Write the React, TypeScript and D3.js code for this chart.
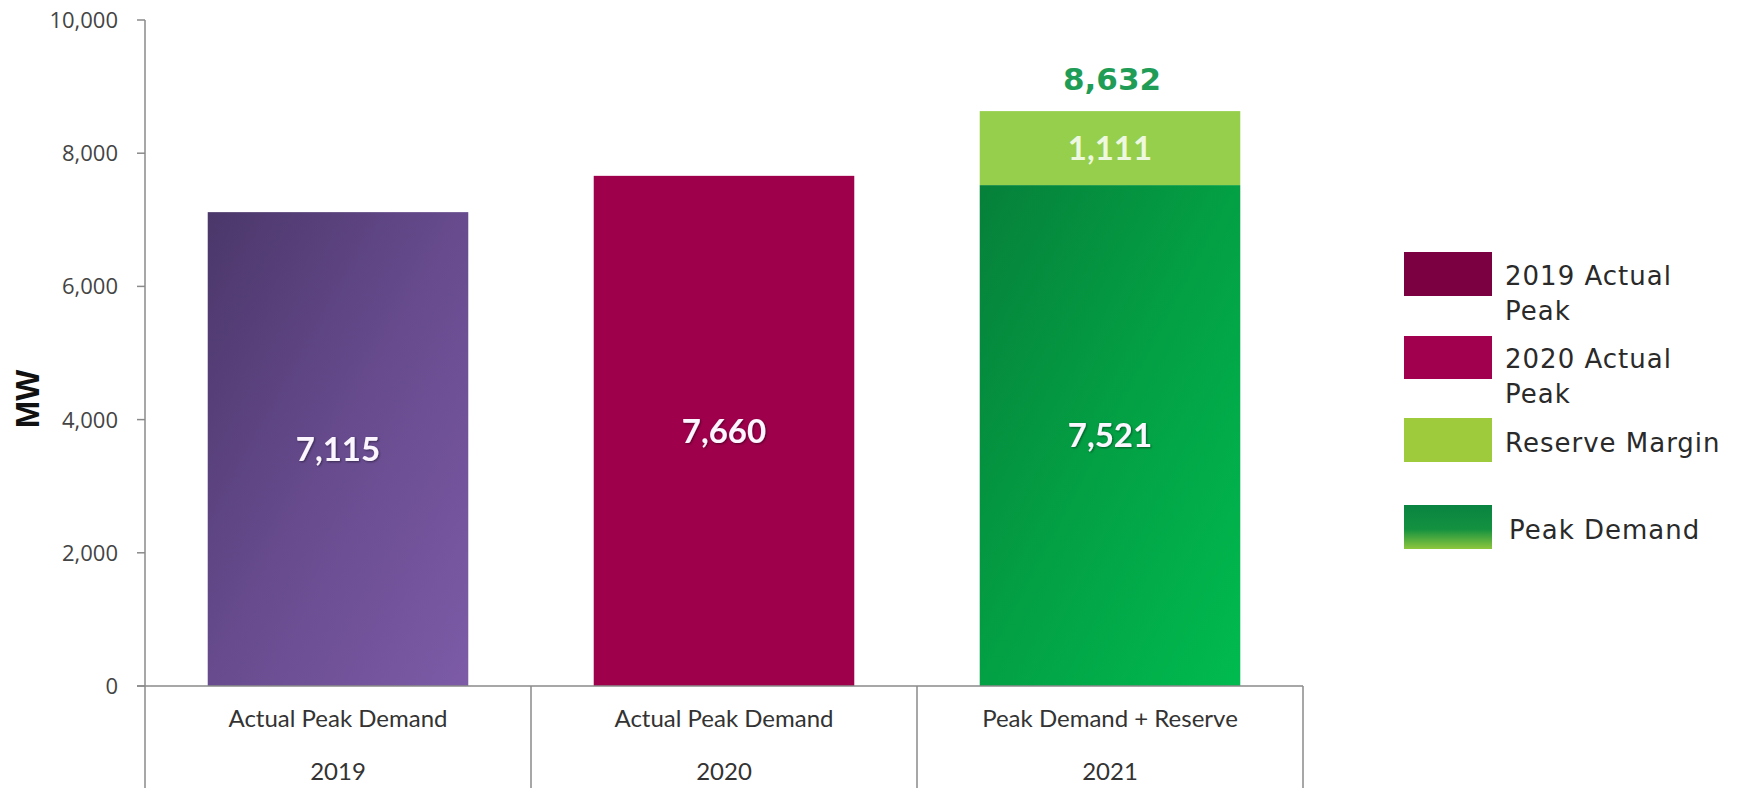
import React from "react";
import * as d3 from "d3";

const categories = ["Actual Peak Demand", "Actual Peak Demand", "Peak Demand + Reserve"];
const years = ["2019", "2020", "2021"];
const peakValues = [7115, 7660, 7521];
const reserveValues = [0, 0, 1111];
const yTicks = [0, 2000, 4000, 6000, 8000, 10000];
const legendItems = [
  { lines: ["2019 Actual", "Peak"], key: "l2019" },
  { lines: ["2020 Actual", "Peak"], key: "l2020" },
  { lines: ["Reserve Margin"], key: "lres" },
  { lines: ["Peak Demand"], key: "lpeak" },
];

const W = 1737;
const H = 788;

export default function App() {
  const y = d3.scaleLinear().domain([0, 10000]).range([686, 20]);
  const x = d3.scaleBand<string>().domain(years).range([145, 1303]).padding(0);
  const bw = x.bandwidth() * 0.675;
  const fmt = d3.format(",");
  const fills = ["url(#gPurple)", "#9e004b", "url(#gGreen)"];
  const axisColor = "#8a8a8a";

  const legendSwatch = [
    { y: 252, h: 44, fill: "#7a0041" },
    { y: 336, h: 43, fill: "#a0004d" },
    { y: 418, h: 44, fill: "#9dcb3c" },
    { y: 505, h: 44, fill: "url(#gLegendGreen)" },
  ];
  const legendTextX = [1505, 1505, 1505, 1509];
  const legendBase = [285, 368, 452, 539];

  return (
    <svg
      width={W}
      height={H}
      viewBox={`0 0 ${W} ${H}`}
      style={{ position: "absolute", left: 0, top: 0, background: "#fff" }}
    >
      <defs>
        <linearGradient id="gPurple" x1="0" y1="0" x2="1" y2="1">
          <stop offset="0%" stopColor="#4b376a" />
          <stop offset="50%" stopColor="#674b8e" />
          <stop offset="100%" stopColor="#7d5ba7" />
        </linearGradient>
        <linearGradient id="gGreen" x1="0" y1="0" x2="1" y2="1">
          <stop offset="0%" stopColor="#06803a" />
          <stop offset="50%" stopColor="#03a044" />
          <stop offset="100%" stopColor="#00bb4f" />
        </linearGradient>
        <linearGradient id="gLegendGreen" x1="0" y1="0" x2="0" y2="1">
          <stop offset="0%" stopColor="#0a8441" />
          <stop offset="55%" stopColor="#139140" />
          <stop offset="100%" stopColor="#8ec63d" />
        </linearGradient>
        <filter id="shadow" x="-20%" y="-20%" width="140%" height="140%">
          <feDropShadow dx="1" dy="1" stdDeviation="1" floodColor="#000" floodOpacity="0.45" />
        </filter>
      </defs>

      {/* bars */}
      {years.map((yr, i) => {
        const cx = (x(yr) as number) + x.bandwidth() / 2;
        const x0 = cx - bw / 2;
        return (
          <g key={yr}>
            <rect x={x0} y={y(peakValues[i])} width={bw} height={y(0) - y(peakValues[i])} fill={fills[i]} />
            {reserveValues[i] > 0 && (
              <rect
                x={x0}
                y={y(peakValues[i] + reserveValues[i])}
                width={bw}
                height={y(peakValues[i]) - y(peakValues[i] + reserveValues[i])}
                fill="#95cf4b"
              />
            )}
            <text
              x={cx}
              y={(y(peakValues[i]) + y(0)) / 2}
              dy="0.36em"
              textAnchor="middle"
              fontFamily="Lato, 'Open Sans', sans-serif"
              fontWeight="bold"
              fontSize={33}
              fill="#fbf6ff"
              filter="url(#shadow)"
            >
              {fmt(peakValues[i])}
            </text>
            {reserveValues[i] > 0 && (
              <>
                <text
                  x={cx}
                  y={(y(peakValues[i]) + y(peakValues[i] + reserveValues[i])) / 2}
                  dy="0.36em"
                  textAnchor="middle"
                  fontFamily="Lato, 'Open Sans', sans-serif"
                  fontWeight="bold"
                  fontSize={33}
                  fill="#eef7df"
                >
                  {fmt(reserveValues[i])}
                </text>
                <text
                  x={cx + 2}
                  y={y(peakValues[i] + reserveValues[i]) - 21}
                  textAnchor="middle"
                  fontFamily="'DejaVu Sans', Verdana, sans-serif"
                  fontWeight="bold"
                  fontSize={31}
                  fill="#1f9d57"
                >
                  {fmt(peakValues[i] + reserveValues[i])}
                </text>
              </>
            )}
          </g>
        );
      })}

      {/* y axis */}
      <line x1={145} x2={145} y1={y(10000)} y2={H} stroke={axisColor} strokeWidth={1.5} />
      {yTicks.map((t) => (
        <g key={t}>
          <line x1={137} x2={145} y1={y(t)} y2={y(t)} stroke={axisColor} strokeWidth={1.5} />
          <text
            x={118}
            y={y(t)}
            dy="0.36em"
            textAnchor="end"
            fontFamily="'Open Sans', sans-serif"
            fontSize={22}
            fill="#444"
          >
            {fmt(t)}
          </text>
        </g>
      ))}
      <text
        transform={`translate(39, 399) rotate(-90)`}
        textAnchor="middle"
        fontFamily="'Liberation Sans', Arial, sans-serif"
        fontWeight="bold"
        fontSize={33}
        fill="#111"
      >
        MW
      </text>

      {/* x axis */}
      <line x1={137} x2={1303} y1={y(0)} y2={y(0)} stroke={axisColor} strokeWidth={1.5} />
      {years.map((yr, i) => {
        const x0 = x(yr) as number;
        const cx = x0 + x.bandwidth() / 2;
        return (
          <g key={"x" + yr}>
            <line
              x1={x0 + x.bandwidth()}
              x2={x0 + x.bandwidth()}
              y1={y(0)}
              y2={H}
              stroke={axisColor}
              strokeWidth={1.5}
            />
            <text
              x={cx}
              y={727}
              textAnchor="middle"
              fontFamily="Lato, 'Open Sans', sans-serif"
              fontSize={24}
              fill="#333"
            >
              {categories[i]}
            </text>
            <text
              x={cx}
              y={780}
              textAnchor="middle"
              fontFamily="Lato, 'Open Sans', sans-serif"
              fontSize={24}
              fill="#333"
            >
              {yr}
            </text>
          </g>
        );
      })}

      {/* legend */}
      {legendItems.map((it, i) => (
        <g key={it.key}>
          <rect x={1404} y={legendSwatch[i].y} width={88} height={legendSwatch[i].h} fill={legendSwatch[i].fill} />
          {it.lines.map((ln, j) => (
            <text
              key={j}
              x={legendTextX[i]}
              y={legendBase[i] + j * 35}
              fontFamily="'DejaVu Sans', Verdana, sans-serif"
              fontSize={26}
              letterSpacing={1}
              fill="#2a2a2a"
            >
              {ln}
            </text>
          ))}
        </g>
      ))}
    </svg>
  );
}
